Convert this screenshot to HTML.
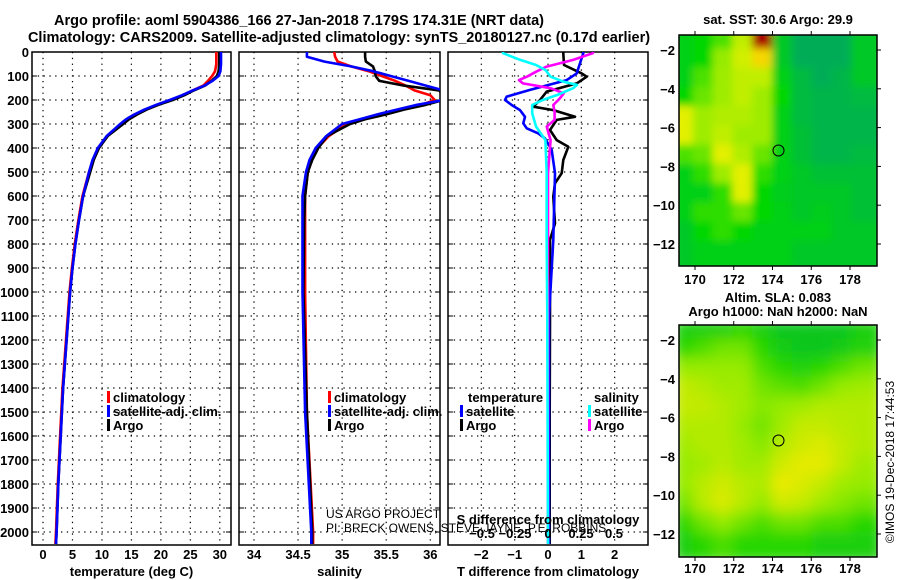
<!DOCTYPE html>
<html><head><meta charset="utf-8"><style>
html,body{margin:0;padding:0;background:#fff;}
svg{display:block;font-family:"Liberation Sans",sans-serif;}
.b{font-weight:bold;font-size:13px;}
.tt{font-weight:bold;font-size:14.5px;}
</style></head><body>
<svg id="c" width="900" height="580" viewBox="0 0 900 580">
<text class="tt" x="299" y="25" text-anchor="middle">Argo profile: aoml 5904386_166 27-Jan-2018 7.179S 174.31E (NRT data)</text>
<text class="tt" x="339" y="42" text-anchor="middle">Climatology: CARS2009. Satellite-adjusted climatology: synTS_20180127.nc (0.17d earlier)</text>
<g id="g"></g>
</svg>
<script>
// ---- profile data ----
const tDepth=[0,50,80,100,120,140,160,180,200,220,240,260,280,300,350,400,450,500,600,700,800,900,1000,1200,1400,1600,1800,2000,2050];
const tArgo=[29.9,29.9,29.8,29.5,28.6,27.5,25.6,24,22,19.6,17.6,16,14.6,13.6,11,9.5,8.6,8,6.8,6.1,5.5,5,4.6,4,3.4,3,2.6,2.3,2.2];
const tClim=[29.4,29.4,29.2,28.7,28.0,27.2,25.4,23.7,21.7,19.4,17.4,15.8,14.4,13.3,10.9,9.4,8.5,7.8,6.7,6.0,5.4,4.9,4.5,3.9,3.3,2.9,2.5,2.2,2.1];
const tSat=[30.2,30.2,30.1,29.8,28.8,27.4,25.4,23.6,21.5,19.2,17.2,15.5,14.1,13.1,10.8,9.3,8.4,7.8,6.8,6.1,5.5,5.0,4.6,4.0,3.4,3.0,2.6,2.3,2.2];
const sDepth=[0,20,40,60,80,100,120,140,160,180,200,220,240,260,280,300,350,400,450,500,600,700,1000,1500,2000,2050];
const sArgo=[35.26,35.26,35.27,35.35,35.37,35.38,35.42,35.7,36.1,36.15,36.15,35.95,35.7,35.5,35.26,35.09,34.83,34.73,34.66,34.61,34.58,34.57,34.56,34.6,34.66,34.66];
const sClim=[34.91,34.92,34.95,35.1,35.3,35.45,35.6,35.72,35.82,36.0,36.05,35.9,35.68,35.45,35.25,35.05,34.85,34.72,34.65,34.61,34.58,34.58,34.58,34.6,34.67,34.67];
const sSat=[34.6,34.6,34.8,35.1,35.35,35.55,35.75,35.95,36.15,36.15,36.15,35.85,35.62,35.4,35.2,35.0,34.82,34.7,34.63,34.59,34.55,34.55,34.55,34.58,34.65,34.65];
const dTArgoDepth=[0,5,54,89,103,131,165,200,228,242,270,283,325,367,395,450,505,547,603,714,783,922,1103,1500,2050];
const dTArgo=[0.46,0.46,0.48,1.01,1.16,0.86,-0.04,-0.24,-0.44,0.16,0.81,0.26,0.06,0.26,0.61,0.46,0.41,0.21,0.16,0.21,0.06,0.06,0.06,0.05,0.05];
const dTSatDepth=[0,5,89,117,158,186,200,221,242,270,297,318,339,360,408,505,783,1103,2050];
const dTSat=[1.06,1.06,0.86,0.56,-0.54,-1.24,-1.29,-1.09,-0.84,-0.69,-0.74,-0.64,-0.29,-0.09,0.11,0.21,0.16,0.03,0.03];
const dSSatDepth=[0,5,33,54,75,103,124,137,151,179,200,221,256,311,367,505,783,1103,2050];
const dSSat=[-0.34,-0.34,-0.21,-0.09,-0.02,0.02,0.12,0.22,0.19,0.07,-0.04,-0.12,-0.12,-0.09,-0.02,-0.01,-0.01,-0.005,0];
const dSArgoDepth=[0,5,33,61,82,103,117,131,151,172,193,221,249,283,311,367,505,783,2050];
const dSArgo=[0.34,0.34,0.19,-0.01,-0.09,-0.16,-0.22,-0.19,0.02,0.12,0.09,0.04,0.05,0.05,-0.01,0.02,0,0,0];
// ---- map data (value 0..1) ----
const sstRows=[
[.5,.55,.6,.7,.95,.45,.35,.35,.35,.45],
[.5,.55,.65,.72,.8,.45,.35,.35,.35,.45],
[.5,.6,.66,.7,.7,.5,.4,.35,.38,.45],
[.55,.62,.66,.7,.66,.55,.4,.38,.38,.4],
[.74,.66,.68,.68,.66,.5,.4,.38,.38,.38],
[.74,.66,.7,.66,.66,.5,.42,.38,.38,.38],
[.6,.62,.74,.68,.62,.5,.42,.38,.38,.4],
[.5,.58,.66,.74,.58,.5,.45,.42,.42,.42],
[.5,.5,.58,.74,.55,.48,.45,.45,.45,.42],
[.5,.58,.58,.62,.55,.5,.45,.48,.45,.42],
[.45,.55,.58,.55,.5,.5,.5,.5,.45,.45],
[.45,.5,.5,.5,.5,.5,.45,.45,.45,.45]];
const slaRows=[
[.4,.4,.4,.45,.4,.35,.35,.35,.35,.4],
[.45,.5,.55,.55,.45,.38,.35,.35,.38,.42],
[.6,.6,.6,.6,.5,.45,.42,.45,.5,.55],
[.68,.65,.62,.62,.55,.52,.5,.55,.6,.62],
[.68,.68,.65,.62,.58,.6,.62,.65,.65,.65],
[.65,.65,.65,.6,.55,.62,.68,.68,.66,.65],
[.62,.65,.65,.62,.58,.66,.7,.72,.68,.65],
[.6,.62,.66,.62,.62,.7,.74,.74,.68,.62],
[.6,.66,.7,.66,.64,.76,.72,.68,.62,.6],
[.55,.66,.72,.66,.6,.7,.68,.62,.58,.55],
[.45,.55,.6,.55,.5,.55,.55,.5,.5,.45],
[.4,.45,.5,.45,.45,.45,.45,.4,.4,.4]];
const floatLon=174.31, floatLat=-7.18;

const NS="http://www.w3.org/2000/svg";
const G=document.getElementById('g');
function el(tag,attrs,parent){const e=document.createElementNS(NS,tag);for(const k in attrs)e.setAttribute(k,attrs[k]);(parent||G).appendChild(e);return e;}
const Y0=52, PY=24/100, PB=545;
const yD=d=>Y0+d*PY;
const panels=[
 {x0:32,x1:231,v0:-1.87,v1:31.9,grid:[0,5,10,15,20,25,30],lab:['0','5','10','15','20','25','30'],title:'temperature (deg C)',name:'temperature-panel'},
 {x0:239,x1:440,v0:33.83,v1:36.11,grid:[34,34.5,35,35.5,36],lab:['34','34.5','35','35.5','36'],title:'salinity',name:'salinity-panel'},
 {x0:448,x1:648,v0:-3,v1:3,grid:[-2,-1,0,1,2],lab:['\u22122','\u22121','0','1','2'],title:'T difference from climatology',name:'difference-panel'}];
panels.forEach(p=>{p.sx=v=>p.x0+(v-p.v0)/(p.v1-p.v0)*(p.x1-p.x0);});
function line(p,xs,ds,color,name,sx){
 const f=sx||p.sx;
 const pts=xs.map((v,i)=>f(v).toFixed(1)+','+yD(ds[i]).toFixed(1)).join(' ');
 const e=el('polyline',{points:pts,fill:'none',stroke:color,'stroke-width':2.6,'stroke-linejoin':'round','clip-path':'url(#cp'+panels.indexOf(p)+')'});
 
 
}
const defs=el('defs',{});
panels.forEach((p,i)=>{
 const cp=el('clipPath',{id:'cp'+i},defs);el('rect',{x:p.x0,y:Y0,width:p.x1-p.x0,height:PB-Y0},cp);
 const fr=el('g',{});
 
 
 for(let d=100;d<=2000;d+=100){el('line',{x1:p.x0,x2:p.x1,y1:yD(d),y2:yD(d),stroke:'#000','stroke-width':1.2,'stroke-dasharray':'1.3 4.5'},fr);
  el('line',{x1:p.x0,x2:p.x0+5,y1:yD(d),y2:yD(d),stroke:'#000','stroke-width':1},fr);el('line',{x1:p.x1-5,x2:p.x1,y1:yD(d),y2:yD(d),stroke:'#000','stroke-width':1},fr);}
 p.grid.forEach((v,k)=>{const x=p.sx(v);
  el('line',{x1:x,x2:x,y1:Y0,y2:PB,stroke:'#000','stroke-width':1.2,'stroke-dasharray':'1.3 4.5'},fr);
  const t=el('text',{x:x,y:559,'text-anchor':'middle','class':'b'},fr);t.textContent=p.lab[k];
  
  });
 el('rect',{x:p.x0,y:Y0,width:p.x1-p.x0,height:PB-Y0,fill:'none',stroke:'#000','stroke-width':1.5},fr);
 const tt=el('text',{x:(p.x0+p.x1)/2,y:576,'text-anchor':'middle','class':'b'},fr);tt.textContent=p.title;
 
 
});
for(let d=0;d<=2000;d+=100){const t=el('text',{x:29,y:yD(d)+5,'text-anchor':'end','class':'b'});t.textContent=d;
 
 }
const P=panels;
line(P[0],tClim,tDepth,'#f00','temp-climatology-line');
line(P[0],tArgo,tDepth,'#000','temp-argo-line');
line(P[0],tSat,tDepth,'#00f','temp-satellite-line');
line(P[1],sClim,sDepth,'#f00','sal-climatology-line');
line(P[1],sArgo,sDepth,'#000','sal-argo-line');
line(P[1],sSat,sDepth,'#00f','sal-satellite-line');
const sxS=v=>548+v*132;
line(P[2],dTArgo,dTArgoDepth,'#000','tdiff-argo-line');
line(P[2],dTSat,dTSatDepth,'#00f','tdiff-satellite-line');
line(P[2],dSArgo,dSArgoDepth,'#f0f','sdiff-argo-line',sxS);
line(P[2],dSSat,dSSatDepth,'#0ff','sdiff-satellite-line',sxS);
// legends
function leg(x,y,color,txt,name){el('rect',{x:x,y:y-11,width:3,height:12,fill:color});
 const t=el('text',{x:x+6,y:y,'class':'b'});t.textContent=txt;
 
 }
leg(107,402,'#f00','climatology','legend-climatology');leg(107,416,'#00f','satellite-adj. clim.','legend-satellite');leg(107,430,'#000','Argo','legend-argo');
leg(328,402,'#f00','climatology','legend-climatology-2');leg(328,416,'#00f','satellite-adj. clim.','legend-satellite-2');leg(328,430,'#000','Argo','legend-argo-2');
let t=el('text',{x:468,y:402,'class':'b'});t.textContent='temperature';


t=el('text',{x:594,y:402,'class':'b'});t.textContent='salinity';


leg(460,416,'#00f','satellite','legend-t-satellite');leg(460,430,'#000','Argo','legend-t-argo');
leg(588,416,'#0ff','satellite','legend-s-satellite');leg(588,430,'#f0f','Argo','legend-s-argo');
t=el('text',{x:326,y:518,'font-size':'12'});t.textContent='US ARGO PROJECT';


t=el('text',{x:326,y:532,'font-size':'12'});t.textContent='PI: BRECK OWENS, STEVE JAYNE, P.E. ROBBINS';


t=el('text',{x:548,y:524,'text-anchor':'middle','class':'b'});t.textContent='S difference from climatology';


[-0.5,-0.25,0,0.25,0.5].forEach(v=>{const e=el('text',{x:sxS(v),y:538,'text-anchor':'middle','class':'b'});e.textContent=(v<0?'\u2212':'')+Math.abs(v);
 
 });
// maps
function cmapSST(v){const stops=[[0.3,[0,160,110]],[0.45,[0,200,40]],[0.55,[0,215,0]],[0.65,[150,235,0]],[0.75,[235,240,0]],[0.85,[255,190,0]],[0.95,[170,0,0]]];return interp(stops,v);}
function cmapSLA(v){const stops=[[0.3,[0,190,40]],[0.45,[40,215,0]],[0.6,[150,235,0]],[0.75,[235,235,0]]];return interp(stops,v);}
function interp(s,v){if(v<=s[0][0])return 'rgb('+s[0][1]+')';for(let i=1;i<s.length;i++){if(v<=s[i][0]){const f=(v-s[i-1][0])/(s[i][0]-s[i-1][0]);return 'rgb('+s[i-1][1].map((c,k)=>Math.round(c+(s[i][1][k]-c)*f)).join(',')+')';}}return 'rgb('+s[s.length-1][1]+')';}
function map(y0,y1,latY2,latY12,rows,cm,blur,name,tys){
 const x0=679,x1=877;const lx=l=>695+(l-170)*(155/8);const ly=l=>latY2+(l+2)*(latY12-latY2)/(-10);
 const cpid='mc'+name;const cp=el('clipPath',{id:cpid},defs);el('rect',{x:x0,y:y0,width:x1-x0,height:y1-y0},cp);
 const g=el('g',{'clip-path':'url(#'+cpid+')'});
 
 
 const inner=el('g',{filter:'url(#'+blur+')'},g);
 const nr=rows.length,nc=rows[0].length;const cw=(x1-x0)/nc,ch=(y1-y0)/nr;
 rows.forEach((r,i)=>r.forEach((v,j)=>{el('rect',{x:x0+j*cw-6,y:y0+i*ch-6,width:cw+12,height:ch+12,fill:cm(v)},inner);}));
 el('circle',{cx:lx(floatLon),cy:ly(floatLat),r:5.5,fill:'none',stroke:'#000','stroke-width':1},g);
 el('rect',{x:x0,y:y0,width:x1-x0,height:y1-y0,fill:'none',stroke:'#000','stroke-width':1.5});
 [170,172,174,176,178].forEach(l=>{el('line',{x1:lx(l),x2:lx(l),y1:y0,y2:y0-4,stroke:'#000'});el('line',{x1:lx(l),x2:lx(l),y1:y1,y2:y1+4,stroke:'#000'});
  const e=el('text',{x:lx(l),y:tys,'text-anchor':'middle','class':'b'});e.textContent=l;
  
  });
 [-2,-4,-6,-8,-10,-12].forEach(l=>{el('line',{x1:x1,x2:x1+4,y1:ly(l),y2:ly(l),stroke:'#000'});
  const e=el('text',{x:675,y:ly(l)+5,'text-anchor':'end','class':'b'});e.textContent='\u2212'+Math.abs(l);
  
  });
}
let f=el('filter',{id:'bl',x:'-10%',y:'-10%',width:'120%',height:'120%'},defs);el('feGaussianBlur',{stdDeviation:7},f);
f=el('filter',{id:'bl2',x:'-10%',y:'-10%',width:'120%',height:'120%'},defs);el('feGaussianBlur',{stdDeviation:4},f);
map(35,266,50,244,sstRows,cmapSST,'bl2','sst-map',284);
map(325,557,340,534,slaRows,cmapSLA,'bl','sla-map',573);
t=el('text',{x:778,y:24,'text-anchor':'middle','class':'b'});t.textContent='sat. SST: 30.6 Argo: 29.9';


t=el('text',{x:778,y:302,'text-anchor':'middle','class':'b'});t.textContent='Altim. SLA: 0.083';


t=el('text',{x:778,y:316,'text-anchor':'middle','class':'b'});t.textContent='Argo h1000: NaN h2000: NaN';


t=el('text',{x:894,y:462,'text-anchor':'middle','font-size':'12',transform:'rotate(-90 894 462)'});t.textContent='\u00A9IMOS 19-Dec-2018 17:44:53';


</script>
</body></html>
